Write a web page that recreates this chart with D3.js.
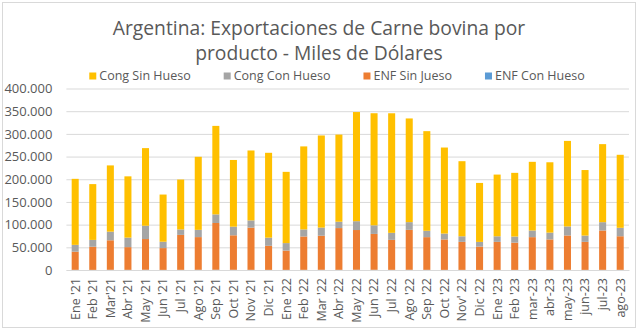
<!DOCTYPE html>
<html>
<head>
<meta charset="utf-8">
<script src="https://cdn.jsdelivr.net/npm/d3@7"></script>
<style>
  html, body { margin: 0; padding: 0; background: #fff; }
  svg { display: block; font-family: "Open Sans", sans-serif; }
</style>
</head>
<body>
<svg id="chart" width="640" height="335"></svg>
<script>
// meses (eje x)
const months = ["Ene '21", "Feb '21", "Mar'21", "Abr '21", "May '21", "Jun '21", "Jul '21", "Ago '21",
  "Sep '21", "Oct '21", "Nov '21", "Dic '21", "Ene '22", "Feb '22", "Mar '22", "Abr '22",
  "May '22", "Jun '22", "Jul '22", "Ago '22", "Sep '22", "Oct '22", "Nov' 22", "Dic '22",
  "Ene '23", "Feb '23", "mar-23", "abr-23", "may-23", "jun-23", "jul-23", "ago-23"];

// valores en miles de dólares
const enfConHueso = [0.4, 0.3, 0.5, 0.4, 0.6, 0.3, 0.4, 0.5, 0.6, 0.5, 0.4, 0.3, 0.3, 0.4, 0.5, 0.4,
  0.6, 0.5, 0.4, 0.5, 0.4, 0.3, 0.3, 0.2, 0.3, 0.3, 0.4, 0.4, 0.5, 0.3, 0.4, 0.4];
const enfSinJueso = [40, 51, 65, 50, 67.6, 48, 77, 72, 103, 76, 93, 53, 42.5, 73.5, 75, 92,
  87.5, 79, 66, 88, 72, 67, 61.7, 51.4, 61.7, 60, 72, 67, 75.6, 61.7, 86.7, 74];
const congConHueso = [15, 15, 19, 21, 29.4, 14, 12, 16, 19, 19, 16, 18, 16.5, 15.5, 18, 14,
  19.5, 19, 15.5, 17, 14, 13, 12.3, 10.3, 12.3, 13.5, 14.7, 15, 19.9, 13.9, 18.3, 18.6];
const congSinHueso = [145.5, 123, 146, 135, 171, 104, 110, 161, 195, 147, 154, 187, 157, 183, 203, 192,
  240.5, 247, 263.5, 228.5, 219.6, 189.6, 165.5, 130, 136, 140.3, 151.3, 155, 188.5, 144.4, 172, 160.9];

const yTicks = [0, 50, 100, 150, 200, 250, 300, 350, 400];

const titleLines = ["Argentina: Exportaciones de Carne bovina por", "producto - Miles de Dólares"];

// orden de apilado (abajo -> arriba) y orden de leyenda
const seriesKeys = ["ENF Con Hueso", "ENF Sin Jueso", "Cong Con Hueso", "Cong Sin Hueso"];
const legendKeys = ["Cong Sin Hueso", "Cong Con Hueso", "ENF Sin Jueso", "ENF Con Hueso"];
const colors = {
  "Cong Sin Hueso": "#FFC000",
  "Cong Con Hueso": "#A5A5A5",
  "ENF Sin Jueso": "#ED7D31",
  "ENF Con Hueso": "#5B9BD5"
};

const rows = months.map((m, i) => ({
  month: m,
  "ENF Con Hueso": enfConHueso[i],
  "ENF Sin Jueso": enfSinJueso[i],
  "Cong Con Hueso": congConHueso[i],
  "Cong Sin Hueso": congSinHueso[i]
}));

const svg = d3.select("#chart");
const W = 640, H = 335;
const textColor = "#595959";

// marco del gráfico
svg.append("rect")
  .attr("x", 2.5).attr("y", 2.5)
  .attr("width", W - 7).attr("height", H - 10)
  .attr("fill", "#fff")
  .attr("stroke", "#d9d9d9")
  .attr("stroke-width", 1);

const plot = { left: 66.4, right: 629, top: 88.5, bottom: 270 };

const x = d3.scaleBand()
  .domain(months)
  .range([plot.left, plot.right])
  .paddingInner(0.6)
  .paddingOuter(0.3);

const y = d3.scaleLinear()
  .domain([0, 400])
  .range([plot.bottom, plot.top]);

const locale = d3.formatLocale({ decimal: ",", thousands: ".", grouping: [3], currency: ["$", ""] });
const fmt = locale.format(",");

// grilla + etiquetas eje y
const yAxis = d3.axisLeft(y)
  .tickValues(yTicks)
  .tickSize(-(plot.right - plot.left))
  .tickPadding(14)
  .tickFormat(d => fmt(d * 1000));

svg.append("g")
  .attr("transform", `translate(${plot.left},0)`)
  .call(yAxis)
  .call(g => {
    g.select(".domain").remove();
    g.selectAll(".tick line").attr("stroke", "#d9d9d9").attr("stroke-width", 1);
    g.selectAll(".tick text")
      .attr("fill", textColor)
      .style("font-size", "13px")
      .style("font-family", "'Open Sans', sans-serif");
  });

// barras apiladas
const stacked = d3.stack().keys(seriesKeys)(rows);

svg.append("g")
  .selectAll("g")
  .data(stacked)
  .enter()
  .append("g")
  .attr("fill", d => colors[d.key])
  .selectAll("rect")
  .data(d => d)
  .enter()
  .append("rect")
  .attr("x", d => x(d.data.month))
  .attr("width", x.bandwidth())
  .attr("y", d => y(d[1]))
  .attr("height", d => Math.max(0, y(d[0]) - y(d[1])));

// eje x
svg.append("g")
  .attr("transform", `translate(0,${plot.bottom})`)
  .call(d3.axisBottom(x).tickSize(0).tickPadding(0))
  .call(g => {
    g.select(".domain").attr("stroke", "#d9d9d9");
    g.selectAll(".tick text")
      .attr("fill", textColor)
      .style("font-size", "12.5px")
      .style("font-family", "'Open Sans', sans-serif")
      .attr("transform", "rotate(-90)")
      .attr("text-anchor", "end")
      .attr("x", -8)
      .attr("y", 0)
      .attr("dy", "0.35em");
  });

// título
svg.append("g")
  .selectAll("text")
  .data(titleLines)
  .enter()
  .append("text")
  .attr("x", 319)
  .attr("y", (d, i) => 35 + i * 25)
  .attr("text-anchor", "middle")
  .attr("fill", textColor)
  .style("font-size", "19.3px")
  .text(d => d);

// leyenda
const legend = svg.append("g");
const items = legend.selectAll("g")
  .data(legendKeys)
  .enter()
  .append("g");

items.append("rect")
  .attr("width", 7).attr("height", 7)
  .attr("y", -3.5)
  .attr("fill", d => colors[d]);

items.append("text")
  .attr("x", 10)
  .attr("dy", "0.35em")
  .attr("fill", textColor)
  .style("font-size", "12.5px")
  .text(d => d);

let cursor = 0;
const gap = 33;
items.each(function () {
  const g = d3.select(this);
  const w = 10 + g.select("text").node().getComputedTextLength();
  g.attr("transform", `translate(${cursor},0)`);
  cursor += w + gap;
});
const legendWidth = cursor - gap;
legend.attr("transform", `translate(${337 - legendWidth / 2},76)`);
</script>
</body>
</html>
